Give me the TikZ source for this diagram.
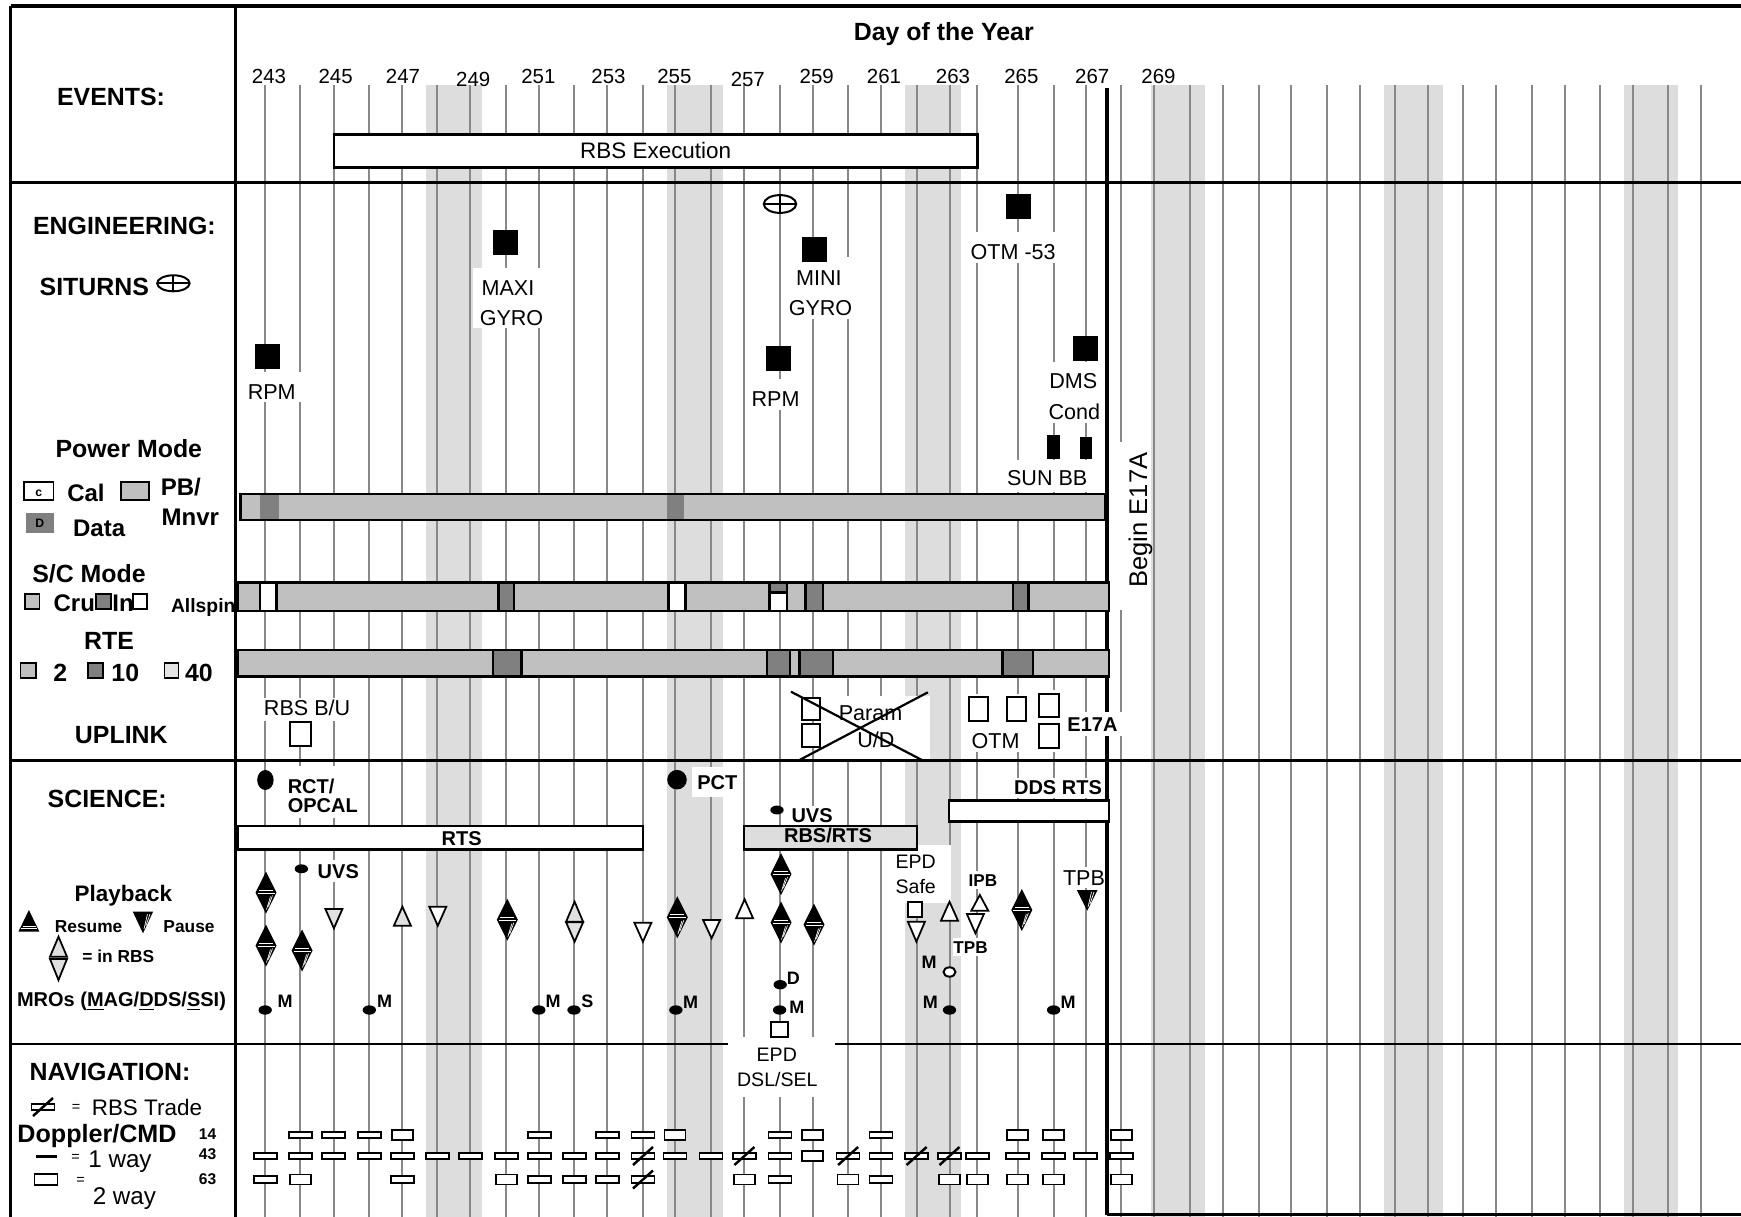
\documentclass[tikz,border=0pt]{standalone}
\usepackage{fontspec}
\setmainfont{Liberation Sans}
\definecolor{linegray}{HTML}{888888}
\definecolor{bandgray}{HTML}{DDDDDD}
\definecolor{barlight}{HTML}{C0C0C0}
\definecolor{bardark}{HTML}{808080}
\definecolor{boxlight}{HTML}{E4E4E4}
\definecolor{trigray}{HTML}{E0E0E0}
\newcommand\dthin[2]{\draw[dop] (#1-11.5,#2-3.3) rectangle (#1+11.5,#2+3.3);}
\newcommand\dthick[2]{\draw[dop] (#1-10.5,#2-5) rectangle (#1+10.5,#2+5);}
\newcommand\dslash[2]{\draw[line width=1.1pt] (#1-10,#2+9) -- (#1+10,#2-9);}
\newcommand\dia[2]{\fill (#1,#2-21) -- (#1+10.5,#2) -- (#1,#2+21) -- (#1-10.5,#2) -- cycle;
  \draw[white,line width=0.3pt] (#1-7,#2-2.5)--(#1+7,#2-2.5) (#1-8.5,#2+0.5)--(#1+8.5,#2+0.5);
  \draw[white,line width=0.3pt] (#1+0.5,#2+17)--(#1+4.5,#2+4) (#1+2.5,#2+14)--(#1+6.5,#2+3);}
\newcommand\tup[4][otri]{\draw[#1] (#2-8.5,#4) -- (#2+8.5,#4) -- (#2,#3) -- cycle;}
\newcommand\tdn[4][otri]{\draw[#1] (#2-8.5,#3) -- (#2+8.5,#3) -- (#2,#4) -- cycle;}
\newcommand\mdot[2]{\fill (#1,#2) ellipse [x radius=3pt, y radius=2.1pt];}
\newcommand\sq[2]{\fill (#1-12.5,#2-12.5) rectangle (#1+12.5,#2+12.5);}
\begin{document}
\begin{tikzpicture}[x=0.45pt,y=-0.45pt,
  vline/.style={draw=linegray,line width=0.9pt},
  sepl/.style={draw=black,line width=1.1pt},
  barbox/.style={draw=black,line width=1.1pt,fill=barlight},
  segd/.style={draw=black,line width=1.1pt,fill=bardark},
  segw/.style={draw=black,line width=1.1pt,fill=white},
  ubox/.style={draw=black,line width=0.9pt,fill=white},
  dop/.style={draw=black,line width=0.75pt,fill=white},
  otri/.style={draw=black,line width=0.8pt,fill=white,line join=miter},
  gtri/.style={otri,fill=trigray},
  tx/.style={inner sep=0pt,outer sep=0pt,text depth=0pt},
  tHd/.style={tx,font=\fontsize{11.2}{13}\selectfont\bfseries,text height=8pt},
  tHdb/.style={tx,font=\fontsize{10.8}{12}\selectfont\bfseries,text height=7.7pt},
  tNum/.style={tx,font=\fontsize{9.2}{11}\selectfont,text height=6.6pt},
  tLab/.style={tx,font=\fontsize{9.7}{11}\selectfont,text height=6.9pt},
  tEv/.style={tx,font=\fontsize{10.1}{12}\selectfont,text height=7.2pt},
  tSb/.style={tx,font=\fontsize{9}{10}\selectfont\bfseries,text height=6.45pt},
  tSm/.style={tx,font=\fontsize{7.8}{9}\selectfont\bfseries,text height=5.6pt},
  tEpd/.style={tx,font=\fontsize{8.8}{10}\selectfont,text height=6.3pt},
  tM/.style={tx,font=\fontsize{8.1}{9}\selectfont\bfseries,text height=5.8pt},
  tIpb/.style={tx,font=\fontsize{7.7}{9}\selectfont\bfseries,text height=5.5pt},
  tAll/.style={tx,font=\fontsize{8.7}{9}\selectfont\bfseries,text height=6.2pt},
  tPb/.style={tx,font=\fontsize{10.1}{12}\selectfont\bfseries,text height=7.2pt},
  tDop/.style={tx,font=\fontsize{11.3}{13}\selectfont\bfseries,text height=8.1pt},
  tTiny/.style={tx,font=\fontsize{7}{8}\selectfont\bfseries,text height=5pt},
  tWay/.style={tx,font=\fontsize{10.9}{13}\selectfont,text height=7.8pt},
  tEq/.style={tx,font=\fontsize{6.5}{7}\selectfont,text height=3.2pt},
  tMini/.style={tx,font=\fontsize{5.5}{6}\selectfont\bfseries,text height=3.9pt}]
\useasboundingbox (0,0) rectangle (1741,1217);
\fill[white] (0,0) rectangle (1741,1217);
% shaded bands
\foreach \a/\b in {425.9/481.8,667.1/722.6,905.1/960.6,1151.1/1205.1,1384.1/1442.6,1624.1/1677.6}
  \fill[bandgray] (\a,85) rectangle (\b,1217);
% day grid lines
\foreach \x in {265.2,300.4,333.7,369.3,402.2,437.4,470.3,506.3,539.2,574.4,607.4,643,675.1,711.1,744.4,780,812.5,848.1,881,916.6,949.5,977.4,1017.6,1053.6,1085.7,1121.3,1154.4,1190.3,1223,1258.6,1291.3,1327.3,1359.6,1395.1,1427.9,1463.4,1496.1,1532.1,1564.8,1600.4,1633.1,1668.2,1701.3}
  \draw[vline] (\x,85) -- (\x,1217);
% white label backgrounds
\foreach \a/\b/\c/\d in {472.6/268.3/541.5/328.3, 245/371.7/302.3/401.7, 786/257.3/851/319.3,
  748/379/810/410, 961.3/231.7/1062.3/263.3, 1046/362/1102/423, 1000/460/1092/492,
  1112/441.7/1150/610, 258/698/356/721, 828.6/695.7/930.4/760, 963/694/1030/752,
  1036/690/1062/752, 1062/712/1122/736, 285/766/360/818, 315/860/362/882,
  692/766.7/743/797.3, 789/806/835/825, 1010/778/1105/798, 891/845/951/903,
  965/871/1000/889, 953/938/990/956, 1060/866.7/1106/888, 727.5/1036.7/835/1096.7}
  \fill[white] (\a,\b) rectangle (\c,\d);
% frame and separators
\draw[black,line width=1.8pt] (10.7,6) -- (1741,6);
\draw[black,line width=1.5pt] (10.7,6) -- (10.7,1217);
\draw[black,line width=1.4pt] (235.3,6) -- (235.3,1217);
\draw[sepl] (10.7,182.7) -- (1741,182.7);
\draw[sepl] (10.7,760.7) -- (1741,760.7);
\draw[sepl] (10.7,1044) -- (727.5,1044);
\draw[sepl] (835,1044) -- (1741,1044);
\draw[black,line width=1.7pt] (1107.2,88.3) -- (1107.2,712);
\draw[black,line width=1.7pt] (1107.2,736) -- (1107.2,1214.7);
\draw[sepl] (1107.2,1214.7) -- (1741,1214.7);
% events
\draw[black,line width=1.1pt,fill=white] (334,134.3) rectangle (977.4,167.7);
% engineering squares
\sq{505}{242.5} \sq{267}{356} \sq{814}{249.8} \sq{778.6}{358.8} \sq{1018.8}{206.8} \sq{1085}{348.5}
\fill (1047.2,435) rectangle (1059.5,459.3);
\fill (1079.8,437.3) rectangle (1092.1,459.3);
% situns symbols
\draw[line width=0.9pt,fill=white] (780,204) ellipse [x radius=7.3pt, y radius=4pt];
\draw[line width=0.9pt] (763.8,204) -- (796.2,204) (780,195.1) -- (780,212.9);
\draw[line width=0.9pt] (173.4,283.3) ellipse [x radius=7.3pt, y radius=3.6pt];
\draw[line width=0.9pt] (157.2,283.3) -- (189.6,283.3) (173.4,275.3) -- (173.4,291.3);
% power mode legend
\draw[line width=0.8pt,fill=white] (24.1,481.7) rectangle (53.6,500);
\node[tMini] (lc) at (38.8,492) {c};
\draw[line width=0.9pt,fill=barlight] (120.5,481.7) rectangle (149.2,500);
\fill[bardark] (26,513) rectangle (53.6,533.3);
\node[tMini] (ld) at (39.8,523.5) {D};
% bars
\draw[barbox] (240.3,494) rectangle (1105,520);
\fill[bardark] (259.5,495) rectangle (279.4,519);
\fill[bardark] (667.3,495) rectangle (684.2,519);
\node[tAll,anchor=west] (alls) at (171,606) {Allspin};
\draw[barbox] (237.3,582.7) rectangle (1108.9,611);
\draw[segw] (260.2,582.7) rectangle (276.3,611);
\draw[segd] (498.7,582.7) rectangle (514,611);
\draw[segw] (668.6,582.7) rectangle (685.7,611);
\draw[segd] (769.6,582.7) rectangle (786.8,592.7);
\draw[segw] (769.6,592.7) rectangle (786.8,611);
\draw[segd] (805.4,582.7) rectangle (823.2,611);
\draw[segd] (1013.2,582.7) rectangle (1028.6,611);
\draw[barbox] (237.3,650) rectangle (1108.9,676.7);
\draw[segd] (492.9,650) rectangle (521.6,676.7);
\draw[segd] (766.8,650) rectangle (790,676.7);
\draw[segd] (799.3,650) rectangle (833.2,676.7);
\draw[segd] (1002.5,650) rectangle (1033.2,676.7);
% S/C and RTE legend boxes
\draw[line width=0.8pt,fill=barlight] (24.9,594) rectangle (39.4,609);
\draw[line width=0.8pt,fill=bardark] (95.7,594) rectangle (111,609);
\draw[line width=0.8pt,fill=white] (133.2,594) rectangle (147.3,609);
\draw[line width=0.8pt,fill=barlight] (20.5,663) rectangle (36,678);
\draw[line width=0.8pt,fill=bardark] (88,663) rectangle (103.3,678);
\draw[line width=0.8pt,fill=boxlight] (164.6,663) rectangle (178.5,678);
% uplink
\draw[ubox] (290,721.7) rectangle (310.7,746);
\draw[ubox] (801.8,697.7) rectangle (819.6,720);
\draw[ubox] (801.8,724) rectangle (819.6,747.3);
\draw[ubox] (968.9,696.7) rectangle (988.2,720.7);
\draw[ubox] (1007.1,696.7) rectangle (1026.1,720.7);
\draw[ubox] (1039.3,694) rectangle (1058.9,716.7);
\draw[ubox] (1039.3,724) rectangle (1058.9,748.3);
% science boxes
\draw[black,line width=1.1pt,fill=white] (237.3,826) rectangle (642.9,849.3);
\draw[black,line width=1.1pt,fill=bandgray] (743.9,826) rectangle (916.8,849.3);
\draw[black,line width=1.1pt,fill=white] (948.9,800.7) rectangle (1108.9,821.7);
% science dots
\fill (265.4,780) ellipse [x radius=3.7pt, y radius=4.5pt];
\fill (677,779.7) circle [radius=4.4pt];
\fill (301.4,868.8) ellipse [x radius=3pt, y radius=2pt];
\fill (777,810) ellipse [x radius=3pt, y radius=2pt];
\mdot{265.2}{1010} \mdot{369.3}{1010} \mdot{538.8}{1010} \mdot{574}{1010}
\mdot{675.9}{1010} \mdot{779.6}{1010} \mdot{949.5}{1010} \mdot{1053.6}{1010} \mdot{780.2}{984.7}
\draw[line width=0.9pt,fill=white] (949.5,972) ellipse [x radius=2.7pt, y radius=2.1pt];
% playback symbols
\dia{266}{892.5} \dia{266}{945.5} \dia{302.1}{950.5} \dia{507.3}{919.7} \dia{677.3}{917.2}
\dia{781}{874.2} \dia{781}{922.5} \dia{814}{924.7} \dia{1021.8}{910}
\tdn[gtri]{333.9}{909}{928.3} \tup[gtri]{402.4}{906.7}{925.7} \tdn[otri]{437.8}{906.7}{925.7}
\tup[gtri]{574.6}{901.7}{921.7} \tdn[gtri]{574.6}{922.3}{941.7}
\tdn{642.9}{922.7}{941.7} \tdn{711.6}{920}{938.3} \tup{744.6}{899.3}{918.3}
\draw[ubox] (907.9,901.7) rectangle (922.1,917.3);
\tdn{916.4}{921.7}{941.7} \tup{949.5}{901.7}{920.7}
\tup{979.8}{895}{910.7} \tdn{975.4}{914}{933.3}
\fill (1076.8,890) -- (1097.5,890) -- (1087.2,910.7) -- cycle;
\draw[white,line width=0.3pt] (1088,907)--(1091.5,892) (1090,904)--(1094,892);
\draw[ubox] (771.4,1021.7) rectangle (787.5,1036.7);
% legend playback
\fill (18.4,931.7) -- (39.4,931.7) -- (28.9,910) -- cycle;
\draw[white,line width=0.3pt] (21,928.5)--(37,928.5) (22.5,926)--(35.5,926);
\fill (132.8,911.7) -- (153.1,911.7) -- (143,933.3) -- cycle;
\draw[white,line width=0.3pt] (144,929)--(147.5,914) (146,925.5)--(150,914);
\tup[gtri]{58.5}{936.7}{956.7} \tdn[gtri]{58.5}{959}{980}
% param cross
\draw[line width=1pt] (791,691.7) -- (923.2,760.7);
\draw[line width=1pt] (798.2,760.7) -- (927.9,692.3);
% navigation doppler
\foreach \x in {300.4,333.7,369.3,539.2,607.4,643,780,881} {\dthin{\x}{1135}}
\foreach \x in {402.2,675.1,812.5,1017.6,1053.6,1121.3} {\dthick{\x}{1135}}
\foreach \x in {265.2,300.4,333.7,369.3,402.2,437.4,470.3,506.3,539.2,574.4,607.4,643,675.1,711.1,744.4,780,848.1,881,916.6,949.5,977.4,1017.6,1053.6,1085.7,1121.3} {\dthin{\x}{1156}}
\dthick{812.5}{1156}
\foreach \x in {643,744.4,848.1,916.6,949.5} {\dslash{\x}{1156}}
\foreach \x in {265.2,402.2,539.2,574.4,607.4,643,780,881} {\dthin{\x}{1179.5}}
\foreach \x in {300.4,506.3,744.4,848.1,949.5,977.4,1017.6,1053.6,1121.3} {\dthick{\x}{1179.5}}
\dslash{643}{1179.5}
% nav legend
\dthin{43}{1107} \dslash{43}{1107}
\fill (36.4,1155) rectangle (57.4,1158.3);
\draw[line width=0.8pt,fill=white] (34.4,1174) rectangle (57.4,1185);
% ---- texts ----
\node[tHd] (evt) at (111,97) {EVENTS:};
\node[tHd] (doy) at (943.8,32) {Day of the Year};
\foreach \n/\x/\y in {243/269/76,245/335.6/76,247/403/76,249/473.3/79.5,251/538.4/76,253/608.5/76,255/674.4/76,257/747.8/79.5,259/816.7/76,261/884/76,263/953/76,265/1021.4/76,267/1092.2/76,269/1158.5/76}
  \node[tNum] (d\n) at (\x,\y) {\n};
\node[tEv] (rbsx) at (655.7,150) {RBS Execution};
\node[tHd] (eng) at (124.4,225.8) {ENGINEERING:};
\node[tHd] (sit) at (94.3,286.7) {SITURNS};
\node[tLab] (maxi) at (508,288) {MAXI};
\node[tLab] (gyro1) at (511.5,318) {GYRO};
\node[tLab] (rpm1) at (271.7,392.3) {RPM};
\node[tLab] (mini) at (818.8,277.7) {MINI};
\node[tLab] (gyro2) at (820.5,308.3) {GYRO};
\node[tLab] (rpm2) at (775.6,399) {RPM};
\node[tLab] (otm53) at (1013.2,251.7) {OTM -53};
\node[tLab] (dms) at (1073.2,381) {DMS};
\node[tLab] (cond) at (1074.4,411.7) {Cond};
\node[tLab] (sunbb) at (1047.2,477.7) {SUN BB};
\node[tx,rotate=90,font=\fontsize{11.5}{13}\selectfont,text height=8.2pt] (beg) at (1138,520) {Begin E17A};
\node[tHd] (pwr) at (128.8,449) {Power Mode};
\node[tHdb] (cal) at (86,492.5) {Cal};
\node[tHdb] (pbm) at (180.8,486.5) {PB/};
\node[tHdb] (mnvr) at (190.4,516.5) {Mnvr};
\node[tHdb] (data) at (99.1,527.5) {Data};
\node[tHd] (scm) at (89,573.3) {S/C Mode};
\node[tHdb] (cru) at (74.3,603) {Cru};
\node[tHdb] (inm) at (123,603) {In};
\node[tHd] (rte) at (109,640.3) {RTE};
\node[tHd] (r2) at (60.3,673) {2};
\node[tHd] (r10) at (125.3,673) {10};
\node[tHd] (r40) at (199,673) {40};
\node[tHd] (upl) at (121.3,734.2) {UPLINK};
\node[tLab] (rbsbu) at (307.1,708.3) {RBS B/U};
\node[tLab] (param) at (870.5,712.5) {Param};
\node[tLab] (ud) at (875.9,740) {U/D};
\node[tLab] (otm) at (995.5,741) {OTM};
\node[tSb] (e17a) at (1092.5,724.2) {E17A};
\node[tHd] (sci) at (107.2,798.3) {SCIENCE:};
\node[tSb,anchor=west] (rct) at (287.8,786.7) {RCT/};
\node[tSb,anchor=west] (opcal) at (287.8,805.5) {OPCAL};
\node[tSb] (pct) at (717.3,782.8) {PCT};
\node[tSb] (uvs1) at (338.3,871.2) {UVS};
\node[tSb] (uvs2) at (812.1,815.8) {UVS};
\node[tSb] (rts) at (461.7,838.3) {RTS};
\node[tSb] (rbsrts) at (828,835.5) {RBS/RTS};
\node[tSb] (ddsrts) at (1058,787.8) {DDS RTS};
\node[tEpd] (epd1) at (915.7,861.7) {EPD};
\node[tEpd] (safe) at (915.7,886.7) {Safe};
\node[tIpb] (ipb) at (982.9,880) {IPB};
\node[tIpb] (tpb1) at (970.5,947) {TPB};
\node[tLab] (tpb2) at (1084,878.3) {TPB};
\node[tM] (m1) at (285.1,1000.7) {M};
\node[tM] (m2) at (384.6,1000.7) {M};
\node[tM] (m3) at (553,1000.7) {M};
\node[tM] (s1) at (587.4,1000.7) {S};
\node[tM] (m4) at (690.7,1001.7) {M};
\node[tM] (d1) at (793.4,978.3) {D};
\node[tM] (m5) at (796.8,1006.7) {M};
\node[tM] (m6) at (929,962.5) {M};
\node[tM] (m7) at (930.4,1002) {M};
\node[tM] (m8) at (1068,1001.7) {M};
\node[tEpd] (epd2) at (776.8,1054.2) {EPD};
\node[tEpd] (dslsel) at (777.3,1079.3) {DSL/SEL};
\node[tPb] (pbk) at (123.4,893.8) {Playback};
\node[tSm] (res) at (88.6,926.3) {Resume};
\node[tSm] (pau) at (189,926) {Pause};
\node[tSm] (inrbs) at (118.3,956.3) {= in RBS};
\node[tSb] (mro) at (121.5,999.2) {MROs (\underline{M}AG/\underline{D}DS/\underline{S}SI)};
\node[tHd] (nav) at (110,1071.7) {NAVIGATION:};
\node[tEq] (eq0) at (76,1108) {=};
\node[tEv,anchor=west] (trade) at (91.8,1107) {RBS Trade};
\node[tDop] (dopc) at (97,1133) {Doppler/CMD};
\node[tTiny] (n14) at (207.6,1133.7) {14};
\node[tTiny] (n43) at (207.6,1154) {43};
\node[tTiny] (n63) at (207.6,1178.8) {63};
\node[tEq] (eq1) at (75.6,1158) {=};
\node[tWay] (w1) at (120,1159) {1 way};
\node[tEq] (eq2) at (80.5,1181) {=};
\node[tWay] (w2) at (124.4,1195.5) {2 way};
\end{tikzpicture}
\end{document}
